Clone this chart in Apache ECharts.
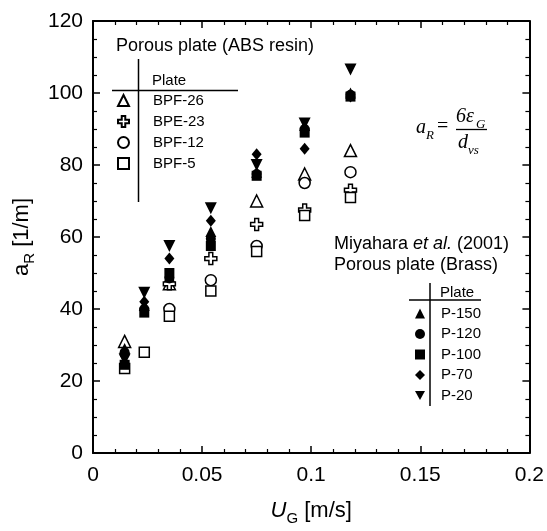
<!DOCTYPE html>
<html>
<head>
<meta charset="utf-8">
<script src="https://cdn.jsdelivr.net/npm/echarts@6/dist/echarts.min.js"></script>
<style>
html, body { margin: 0; padding: 0; background: #fff; }
#main { width: 547px; height: 531px; }
</style>
</head>
<body>
<div id="main"></div>
<script>
var ugMiyahara = [0.0145, 0.0235, 0.035, 0.054, 0.075, 0.097, 0.118];
var p150 = [29, 41, 49, 61.5, 78, 91, 100];
var p120 = [28, 40, 48.5, 59.5, 77.5, 90, 99.5];
var p100 = [24.5, 39, 50, 57.5, 77, 89, 99];
var p70 = [27, 42, 54, 64.5, 83, 84.5, 99];
var p20 = [26, 44.5, 57.5, 68, 80, 91.5, 106.5];

// ABS resin porous plates: [U_G, a_R]
var bpf26 = [[0.0145, 31], [0.035, 47], [0.075, 70], [0.097, 77.5], [0.118, 84]];
var bpe23 = [[0.035, 47], [0.054, 54], [0.075, 63.5], [0.097, 67.5], [0.118, 73]];
var bpf12 = [[0.035, 40], [0.054, 48], [0.075, 57.5], [0.097, 75], [0.118, 78]];
var bpf5 = [[0.0145, 23.5], [0.0235, 28], [0.035, 38], [0.054, 45], [0.075, 56], [0.097, 66], [0.118, 71]];

var xTicks = [0, 0.05, 0.1, 0.15, 0.2];
var yTicks = [0, 20, 40, 60, 80, 100, 120];

var FONT = 'Liberation Sans';
var crossPath = 'path://M3.4,0 H6.6 V3.4 H10 V6.6 H6.6 V10 H3.4 V6.6 H0 V3.4 H3.4 Z';
var downTriPath = 'path://M0,0 L10,0 L5,9 Z';

var myChart = echarts.init(document.getElementById('main'));

function pairs(xs, ys) {
    var out = [];
    for (var i = 0; i < xs.length; i++) {
        out.push([xs[i], ys[i]]);
    }
    return out;
}

function openSeries(name, data, symbol, size) {
    return {
        name: name,
        type: 'scatter',
        data: data,
        symbol: symbol,
        symbolSize: size,
        itemStyle: { color: '#fff', borderColor: '#000', borderWidth: 1.5, opacity: 1 },
        emphasis: { disabled: true },
        z: 2
    };
}

function filledSeries(name, data, symbol, size, rotate) {
    return {
        name: name,
        type: 'scatter',
        data: pairs(ugMiyahara, data),
        symbol: symbol,
        symbolSize: size,
        symbolRotate: rotate || 0,
        itemStyle: { color: '#000', opacity: 1 },
        emphasis: { disabled: true },
        z: 3
    };
}

var axisLine = { show: true, onZero: false, lineStyle: { color: '#000', width: 2 } };
var axisTick = { show: true, inside: true, length: 7, lineStyle: { color: '#000', width: 1.5 } };

option = {
    backgroundColor: '#fff',
    animation: false,
    grid: { left: 93, right: 16, top: 21, bottom: 70 },
    xAxis: [
        {
            type: 'value', min: 0, max: 0.2, interval: 0.05, position: 'bottom',
            axisLine: axisLine, axisTick: axisTick,
            minorTick: { show: true, splitNumber: 5, length: 4, lineStyle: { color: '#000', width: 1.2 } },
            splitLine: { show: false },
            axisLabel: {
                fontSize: 21, fontFamily: FONT, color: '#000', margin: 12,
                formatter: function (v) {
                    var i = xTicks.indexOf(+v.toFixed(2));
                    return i < 0 ? '' : String(xTicks[i]);
                }
            },
            name: '{u|U}{sub|G}{t| [m/s]}',
            nameLocation: 'middle',
            nameGap: 43,
            nameTextStyle: {
                fontFamily: FONT, color: '#000', fontSize: 22,
                rich: {
                    u: { fontFamily: FONT, fontSize: 22, fontStyle: 'italic', lineHeight: 30 },
                    sub: { fontFamily: FONT, fontSize: 15, lineHeight: 15, verticalAlign: 'bottom' },
                    t: { fontFamily: FONT, fontSize: 22, lineHeight: 30 }
                }
            }
        },
        {
            type: 'value', min: 0, max: 0.2, interval: 0.05, position: 'top',
            axisLine: axisLine, axisTick: axisTick,
            minorTick: { show: true, splitNumber: 5, length: 4, lineStyle: { color: '#000', width: 1.2 } },
            splitLine: { show: false },
            axisLabel: { show: false }
        }
    ],
    yAxis: [
        {
            type: 'value', min: 0, max: 120, interval: 20, position: 'left',
            axisLine: axisLine, axisTick: axisTick,
            minorTick: { show: true, splitNumber: 4, length: 4, lineStyle: { color: '#000', width: 1.2 } },
            splitLine: { show: false },
            axisLabel: {
                fontSize: 21, fontFamily: FONT, color: '#000', margin: 10,
                formatter: function (v) { return yTicks.indexOf(v) < 0 ? '' : String(v); }
            },
            name: '{a|a}{sub|R}{t| [1/m]}',
            nameLocation: 'middle',
            nameGap: 56,
            nameTextStyle: {
                fontFamily: FONT, color: '#000', fontSize: 22,
                rich: {
                    a: { fontFamily: FONT, fontSize: 22, lineHeight: 30 },
                    sub: { fontFamily: FONT, fontSize: 15, lineHeight: 15, verticalAlign: 'bottom' },
                    t: { fontFamily: FONT, fontSize: 22, lineHeight: 30 }
                }
            }
        },
        {
            type: 'value', min: 0, max: 120, interval: 20, position: 'right',
            axisLine: axisLine, axisTick: axisTick,
            minorTick: { show: true, splitNumber: 4, length: 4, lineStyle: { color: '#000', width: 1.2 } },
            splitLine: { show: false },
            axisLabel: { show: false }
        }
    ],
    legend: [
        {
            data: ['BPF-26', 'BPE-23', 'BPF-12', 'BPF-5'],
            orient: 'vertical', left: 117, top: 93, padding: 0,
            itemWidth: 11, itemHeight: 11, itemGap: 6,
            selectedMode: false,
            textStyle: { fontFamily: FONT, fontSize: 15, color: '#000', padding: [0, 0, 0, 19] }
        },
        {
            data: ['P-150', 'P-120', 'P-100', 'P-70', { name: 'P-20', icon: downTriPath }],
            orient: 'vertical', left: 415, top: 306, padding: 0,
            itemWidth: 10, itemHeight: 10, itemGap: 5.5,
            selectedMode: false,
            textStyle: { fontFamily: FONT, fontSize: 15, color: '#000', padding: [0, 0, 0, 11] }
        }
    ],
    graphic: [
        // ABS resin table
        { type: 'text', left: 116, top: 37, style: { text: 'Porous plate (ABS resin)', font: '18px "Liberation Sans"', fill: '#000' } },
        { type: 'text', left: 152, top: 73, style: { text: 'Plate', font: '15px "Liberation Sans"', fill: '#000' } },
        { type: 'line', shape: { x1: 112, y1: 90.5, x2: 238, y2: 90.5 }, style: { stroke: '#000', lineWidth: 1.5 } },
        { type: 'line', shape: { x1: 138.5, y1: 59, x2: 138.5, y2: 202 }, style: { stroke: '#000', lineWidth: 1.5 } },
        // Brass table
        {
            type: 'text', left: 334, top: 235,
            style: {
                text: '{n|Miyahara }{i|et al.}{n| (2001)}',
                rich: {
                    n: { fontFamily: FONT, fontSize: 18, fill: '#000' },
                    i: { fontFamily: FONT, fontSize: 18, fontStyle: 'italic', fill: '#000' }
                }
            }
        },
        { type: 'text', left: 334, top: 256, style: { text: 'Porous plate (Brass)', font: '18px "Liberation Sans"', fill: '#000' } },
        { type: 'text', left: 440, top: 285, style: { text: 'Plate', font: '15px "Liberation Sans"', fill: '#000' } },
        { type: 'line', shape: { x1: 409, y1: 300, x2: 481, y2: 300 }, style: { stroke: '#000', lineWidth: 1.5 } },
        { type: 'line', shape: { x1: 430, y1: 283, x2: 430, y2: 406 }, style: { stroke: '#000', lineWidth: 1.5 } },
        // a_R = 6 eps_G / d_vs
        { type: 'text', x: 416, y: 128, style: { text: 'a', font: 'italic 20px "Liberation Serif"', fill: '#000', verticalAlign: 'middle' } },
        { type: 'text', x: 426, y: 136, style: { text: 'R', font: 'italic 13px "Liberation Serif"', fill: '#000', verticalAlign: 'middle' } },
        { type: 'text', x: 437, y: 127, style: { text: '=', font: '20px "Liberation Serif"', fill: '#000', verticalAlign: 'middle' } },
        { type: 'text', x: 456, y: 117, style: { text: '6ε', font: 'italic 20px "Liberation Serif"', fill: '#000', verticalAlign: 'middle' } },
        { type: 'text', x: 476, y: 125, style: { text: 'G', font: 'italic 13px "Liberation Serif"', fill: '#000', verticalAlign: 'middle' } },
        { type: 'line', shape: { x1: 456, y1: 129.5, x2: 487, y2: 129.5 }, style: { stroke: '#000', lineWidth: 1.3 } },
        { type: 'text', x: 458, y: 143, style: { text: 'd', font: 'italic 20px "Liberation Serif"', fill: '#000', verticalAlign: 'middle' } },
        { type: 'text', x: 468, y: 151, style: { text: 'vs', font: 'italic 13px "Liberation Serif"', fill: '#000', verticalAlign: 'middle' } }
    ],
    series: [
        openSeries('BPF-26', bpf26, 'triangle', 12),
        openSeries('BPE-23', bpe23, crossPath, 12),
        openSeries('BPF-12', bpf12, 'circle', 11),
        openSeries('BPF-5', bpf5, 'rect', 10),
        filledSeries('P-150', p150, 'triangle', 11),
        filledSeries('P-120', p120, 'circle', 10),
        filledSeries('P-100', p100, 'rect', 10),
        filledSeries('P-70', p70, 'diamond', [10, 12]),
        filledSeries('P-20', p20, 'triangle', 12, 180)
    ]
};

if (option && typeof option === "object") {
    myChart.setOption(option, true);
}
</script>
</body>
</html>
